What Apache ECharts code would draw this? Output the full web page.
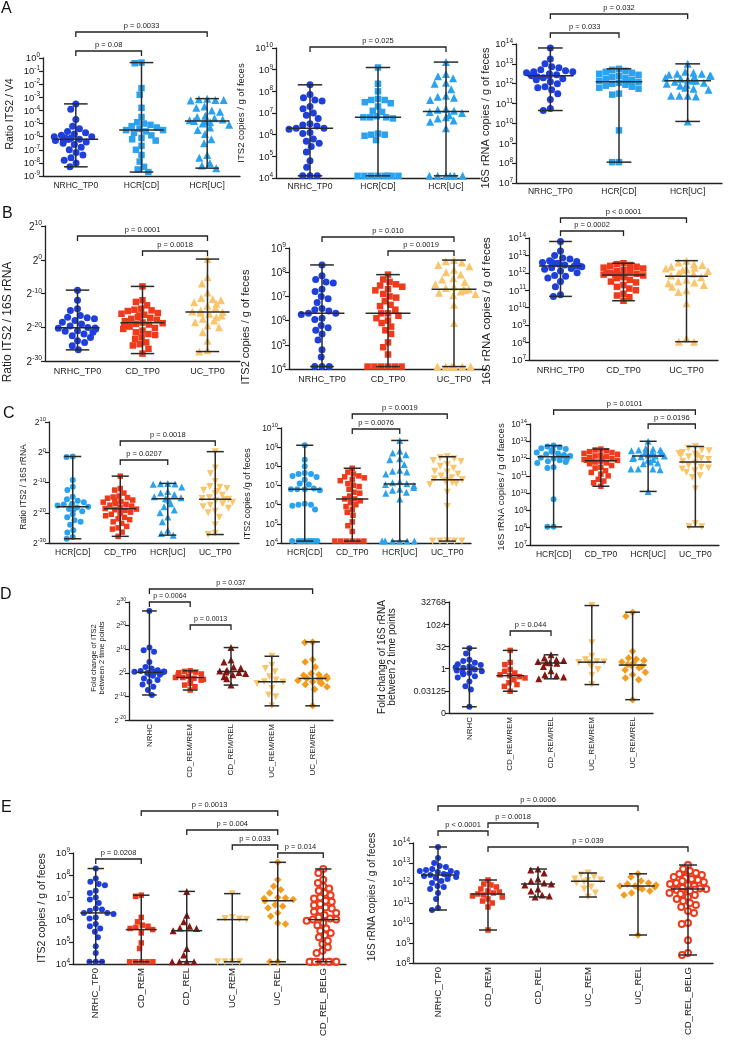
<!DOCTYPE html>
<html><head><meta charset="utf-8">
<script src="https://cdn.jsdelivr.net/npm/echarts@6/dist/echarts.min.js"></script>
<style>html,body{margin:0;padding:0;background:#fff}#c{width:730px;height:1049px}</style>
</head><body><div id="c"></div>
<script>
// ================= DATA (log10 or log2 exponents) =================
const catsA = ['NRHC_TP0', 'HCR[CD]', 'HCR[UC]'];
const catsB = ['NRHC_TP0', 'CD_TP0', 'UC_TP0'];
const catsC = ['HCR[CD]', 'CD_TP0', 'HCR[UC]', 'UC_TP0'];
const catsD = ['NRHC', 'CD_REM/REM', 'CD_REM/REL', 'UC_REM/REM', 'UC_REM/REL'];
const catsE = ['NRHC_TP0', 'CD_REM', 'CD_REL', 'UC_REM', 'UC_REL', 'CD_REL_BELG'];

// log10(ratio ITS2 / V4)
const log10_ratioV4_NRHC_TP0 = [-3.5, -3.9, -4.7, -5.2, -5.4, -5.6, -5.7, -5.8, -5.9, -6.0, -6.0, -6.1, -6.1, -6.2, -6.2, -6.2, -6.3, -6.3, -6.4, -6.5, -6.6, -6.8, -7.0, -7.2, -7.4, -7.6, -7.8, -8.0, -8.3];
const log10_ratioV4_HCR_CD = [-0.35, -0.4, -2.3, -2.8, -3.8, -4.5, -4.9, -5.0, -5.1, -5.2, -5.3, -5.4, -5.5, -5.5, -5.6, -5.7, -5.9, -6.1, -6.2, -6.3, -6.7, -7.0, -7.4, -7.9, -8.3, -8.5, -8.7];
const log10_ratioV4_HCR_UC = [-3.1, -3.15, -3.2, -3.2, -3.25, -3.7, -3.8, -4.0, -4.1, -4.4, -4.5, -4.6, -4.7, -4.75, -4.8, -4.8, -4.9, -5.0, -5.1, -5.3, -5.5, -5.8, -6.2, -6.5, -7.4, -7.6, -8.0, -8.2, -8.4];

// log10(ITS2 copies / g of feces)
const log10_its2_NRHC_TP0 = [8.3, 7.85, 7.7, 7.6, 7.55, 7.3, 7.2, 7.0, 6.9, 6.75, 6.5, 6.45, 6.4, 6.3, 6.3, 6.25, 6.1, 6.05, 5.8, 5.7, 5.6, 5.45, 5.2, 4.8, 4.5, 4.1, 4.1, 4.1];
const log10_its2_HCR_CD = [9.1, 8.35, 8.0, 7.65, 7.6, 7.6, 7.5, 7.45, 7.3, 7.1, 7.05, 6.85, 6.8, 6.8, 6.8, 6.75, 6.05, 6.0, 6.0, 5.95, 5.75, 4.1, 4.1, 4.1, 4.1, 4.1, 4.1, 4.1, 4.1];
const log10_its2_HCR_UC = [9.35, 8.8, 8.7, 8.6, 8.4, 8.35, 8.1, 7.8, 7.75, 7.7, 7.6, 7.2, 7.15, 7.1, 7.05, 7.0, 6.9, 6.8, 6.75, 6.65, 6.6, 6.3, 4.1, 4.1, 4.1, 4.1, 4.1, 4.1];
const log10_its2_CD_TP0 = [7.9, 7.7, 7.6, 7.5, 7.45, 7.4, 7.3, 7.25, 7.1, 7.0, 6.95, 6.8, 6.65, 6.6, 6.45, 6.3, 6.3, 6.2, 6.1, 6.0, 5.9, 5.75, 5.6, 5.45, 5.1, 4.9, 4.6, 4.1, 4.1, 4.1, 4.1, 4.1, 4.1];
const log10_its2_UC_TP0 = [8.5, 8.45, 8.4, 8.3, 8.25, 8.1, 8.0, 7.9, 7.75, 7.7, 7.6, 7.5, 7.4, 7.35, 7.3, 7.28, 7.25, 7.2, 7.15, 7.1, 7.05, 6.65, 5.9, 4.1, 4.1, 4.1, 4.1, 4.1, 4.1];
const log10_its2_CD_REM = [7.1, 7.05, 6.1, 5.9, 5.75, 5.7, 5.65, 5.6, 5.55, 5.4, 4.95, 4.7, 4.1, 4.1, 4.1, 4.1, 4.1];
const log10_its2_CD_REL = [7.27, 6.2, 5.9, 5.7, 5.62, 5.6, 5.5, 4.7, 4.4, 4.1, 4.1, 4.1, 4.1];
const log10_its2_UC_REM = [7.17, 6.1, 6.05, 6.03, 6.0, 4.1, 4.1, 4.1, 4.1];
const log10_its2_UC_REL = [8.58, 7.8, 7.5, 7.35, 7.2, 7.0, 6.97, 6.95, 6.9, 6.85, 6.67, 6.6, 6.52, 6.3, 6.15, 5.85, 5.8, 4.1, 4.1];
const log10_its2_CD_REL_BELG = [8.28, 8.1, 7.8, 7.65, 7.5, 7.4, 7.3, 7.2, 7.1, 7.0, 6.95, 6.85, 6.8, 6.7, 6.65, 6.55, 6.5, 6.4, 6.35, 6.3, 6.2, 6.1, 6.05, 6.0, 6.0, 5.95, 5.85, 5.75, 5.6, 5.5, 5.4, 5.3, 5.2, 5.05, 4.9, 4.75, 4.6, 4.5, 4.1, 4.1, 4.1, 4.1, 4.1, 4.1, 4.1, 4.1, 4.1, 4.1];

// log10(16S rRNA copies / g of feces)
const log10_16s_NRHC_TP0 = [13.8, 13.25, 13.0, 12.85, 12.8, 12.7, 12.65, 12.6, 12.6, 12.55, 12.5, 12.45, 12.4, 12.4, 12.4, 12.35, 12.3, 12.25, 12.2, 12.1, 12.0, 11.85, 11.8, 11.7, 11.5, 11.2, 10.75, 10.65];
const log10_16s_HCR_CD = [12.75, 12.7, 12.65, 12.6, 12.55, 12.5, 12.45, 12.4, 12.35, 12.3, 12.25, 12.2, 12.15, 12.1, 12.1, 12.05, 12.0, 11.95, 11.9, 11.85, 11.8, 11.75, 11.5, 11.45, 9.65, 8.05, 8.05];
const log10_16s_HCR_UC = [13.0, 12.6, 12.55, 12.5, 12.5, 12.45, 12.4, 12.4, 12.35, 12.3, 12.25, 12.2, 12.15, 12.15, 12.1, 12.05, 12.0, 11.95, 11.9, 11.8, 11.75, 11.7, 11.4, 11.4, 11.35, 11.4, 10.1];
const log10_16s_CD_TP0 = [12.55, 12.5, 12.45, 12.4, 12.35, 12.3, 12.25, 12.2, 12.15, 12.1, 12.05, 12.0, 12.0, 11.95, 11.9, 11.9, 11.85, 11.85, 11.8, 11.75, 11.7, 11.6, 11.5, 11.45, 11.3, 11.2, 11.1, 11.0, 10.8, 10.7, 10.6, 10.4];
const log10_16s_UC_TP0 = [12.7, 12.6, 12.5, 12.45, 12.35, 12.3, 12.25, 12.2, 12.15, 12.1, 12.0, 11.95, 11.85, 11.75, 11.6, 11.5, 11.45, 11.4, 11.3, 11.2, 11.0, 10.9, 10.25, 8.25, 8.05, 8.05];
const log10_16s_CD_REM = [12.15, 11.95, 11.9, 11.8, 11.7, 11.6, 11.55, 11.5, 11.45, 11.4, 11.35, 11.3, 11.2, 11.1, 11.0, 10.8, 9.65];
const log10_16s_CD_REL = [12.7, 12.65, 12.5, 12.2, 12.1, 12.0, 11.95, 11.9, 11.7, 11.6, 11.4, 11.35, 11.3];
const log10_16s_UC_REM = [12.5, 12.4, 12.3, 12.2, 12.15, 12.12, 12.05, 12.0, 11.8, 11.7, 11.5, 11.3];
const log10_16s_UC_REL = [12.46, 12.3, 12.1, 12.0, 11.95, 11.9, 11.85, 11.85, 11.8, 11.75, 11.7, 11.6, 11.5, 11.4, 9.4];
const log10_16s_CD_REL_BELG = [12.9, 12.7, 12.6, 12.5, 12.45, 12.4, 12.35, 12.3, 12.25, 12.2, 12.15, 12.1, 12.05, 12.0, 11.95, 11.9, 11.85, 11.8, 11.75, 11.72, 11.7, 11.7, 11.68, 11.65, 11.6, 11.55, 11.5, 11.45, 11.4, 11.3, 11.2, 11.1, 11.0, 10.9, 10.8, 10.6, 10.5, 10.0, 9.95, 9.14, 8.5, 8.4];

// log2(ratio ITS2 / 16S rRNA)
const log2_ratio16s_NRHC_TP0 = [-9, -12, -14.5, -15, -16.5, -17, -17.2, -17.5, -18, -18.5, -19, -19.6, -20.1, -20.2, -20.3, -20.5, -21, -21.2, -21.5, -22, -22.5, -23, -24, -24.5, -25.5, -26.7];
const log2_ratio16s_CD_TP0 = [-7.9, -12, -12.5, -13.5, -14.5, -14.8, -15, -15.2, -15.8, -16, -16.3, -16.5, -17, -17.2, -17.5, -17.8, -18.2, -18.6, -18.8, -19, -19.2, -19.5, -19.8, -20.2, -20.5, -21, -21.5, -22, -22.3, -23, -23.5, -24.5, -25, -25.4, -26.4, -27.8];
const log2_ratio16s_UC_TP0 = [0.2, -5.2, -7, -9.7, -11.3, -11.6, -12, -12.6, -13, -13.6, -14.2, -15, -15.3, -15.5, -15.7, -16, -16.5, -17, -17.5, -18, -18.5, -19.5, -20, -21.5, -24, -26.8, -27.2];
const log2_ratio16s_HCR_CD = [-1.4, -1.6, -9.2, -11.4, -12.5, -14.7, -15.5, -16, -16.5, -17, -17.3, -17.6, -18, -18, -18.3, -18.8, -19.1, -19.5, -20.5, -21.5, -22.5, -23, -24, -25.8, -26.5, -28, -28.6];
const log2_ratio16s_HCR_UC = [-10.3, -10.4, -10.5, -10.6, -11.5, -13, -13.5, -14, -14.7, -15, -15.3, -15.5, -16, -17, -18, -19.1, -20, -21.4, -23, -25.8, -26.9, -27.4];

// log2(fold change between 2 time points)
const log2_fcITS2_NRHC = [26.2, 10.7, 9.6, 8.9, 4.6, 2.5, 1.8, 1.1, 0.8, 0.6, 0.4, 0.4, 0.3, 0.1, -0.1, -0.3, -0.5, -0.8, -1.2, -2.4, -3.0, -3.8, -5.0, -5.9, -7.3, -9.4];
const log2_fcITS2_CD_REMREM = [0.85, 0.6, 0.3, 0, -0.5, -1.0, -1.5, -2.0, -2.0, -2.3, -2.8, -3.1, -3.5, -4.5, -5.2, -5.9, -7.3];
const log2_fcITS2_CD_REMREL = [10.7, 5.4, 4.6, 2.5, 2.0, 1.1, 0.8, 0.3, 0.1, -0.3, -0.8, -1.7, -2.5, -5.2];
const log2_fcITS2_UC_REMREM = [7.0, 3.2, 1.8, 0.4, -1.7, -3.1, -3.8, -3.9, -4.5, -6.6, -9.4, -10.1, -14.0];
const log2_fcITS2_UC_REMREL = [13.1, 12.8, 5.6, 4.6, 2.5, -0.3, -0.8, -1.0, -1.5, -2.0, -2.2, -2.4, -2.4, -2.6, -3.0, -3.3, -3.8, -4.2, -4.5, -5.0, -5.9, -7.0, -14.0];
const log2_fc16S_NRHC = [4.6, 3.4, 2.0, 1.7, 1.3, 1.0, 0.8, 0.5, 0.3, 0.2, 0.1, 0.0, -0.2, -0.4, -0.6, -0.8, -1.0, -1.3, -1.7, -2.0, -2.9, -4.0, -4.7, -8.6];
const log2_fc16S_CD_REMREM = [4.1, 1.4, 0.9, -0.2, -0.6, -1.0, -1.4, -1.6, -1.8, -2.1, -2.5, -3.2, -3.6, -4.0, -5.1];
const log2_fc16S_CD_REMREL = [3.1, 2.4, 2.0, 1.8, 1.6, 1.4, 1.3, 1.2, 0.5, -0.5, -1.4, -1.6, -1.9, -2.3];
const log2_fc16S_UC_REMREM = [14.2, 5.8, 2.8, 2.0, 1.6, 1.5, 1.4, 1.3, 0.5, -0.2, -1.5, -3.6];
const log2_fc16S_UC_REMREL = [12.7, 11.8, 3.9, 2.4, 2.1, 1.8, 1.5, 1.2, 0.9, 0.7, 0.5, 0.2, -0.3, -0.8, -1.4, -2.1, -2.5, -7.0];

// p-value comparisons [from, to, label]
const pA1 = [['NRHC_TP0', 'HCR[UC]', 'p = 0.0033'], ['NRHC_TP0', 'HCR[CD]', 'p = 0.08']];
const pA2 = [['NRHC_TP0', 'HCR[UC]', 'p = 0.025']];
const pA3 = [['NRHC_TP0', 'HCR[UC]', 'p = 0.032'], ['NRHC_TP0', 'HCR[CD]', 'p = 0.033']];
const pB1 = [['NRHC_TP0', 'UC_TP0', 'p = 0.0001'], ['CD_TP0', 'UC_TP0', 'p = 0.0018']];
const pB2 = [['NRHC_TP0', 'UC_TP0', 'p = 0.010'], ['CD_TP0', 'UC_TP0', 'p = 0.0019']];
const pB3 = [['NRHC_TP0', 'UC_TP0', 'p < 0.0001'], ['NRHC_TP0', 'CD_TP0', 'p = 0.0002']];
const pC1 = [['CD_TP0', 'UC_TP0', 'p = 0.0018'], ['CD_TP0', 'HCR[UC]', 'p = 0.0207']];
const pC2 = [['CD_TP0', 'UC_TP0', 'p = 0.0019'], ['CD_TP0', 'HCR[UC]', 'p = 0.0076']];
const pC3 = [['HCR[CD]', 'UC_TP0', 'p = 0.0101'], ['HCR[UC]', 'UC_TP0', 'p = 0.0196']];
const pD1 = [['NRHC', 'UC_REM/REL', 'p = 0.037'], ['NRHC', 'CD_REM/REM', 'p = 0.0064'], ['CD_REM/REM', 'CD_REM/REL', 'p = 0.0013']];
const pD2 = [['CD_REM/REM', 'CD_REM/REL', 'p = 0.044']];
const pE1 = [['CD_REM', 'UC_REL', 'p = 0.0013'], ['CD_REL', 'UC_REL', 'p = 0.004'], ['UC_REM', 'UC_REL', 'p = 0.033'], ['UC_REL', 'CD_REL_BELG', 'p = 0.014'], ['NRHC_TP0', 'CD_REM', 'p = 0.0208']];
const pE2 = [['NRHC_TP0', 'UC_REL', 'p = 0.0006'], ['CD_REM', 'CD_REL', 'p = 0.0018'], ['NRHC_TP0', 'CD_REM', 'p < 0.0001'], ['CD_REM', 'CD_REL_BELG', 'p = 0.039']];

// ================= STYLE / LAYOUT =================
const FONT = '"Liberation Sans", Arial, Helvetica, sans-serif';
const INK = '#222';
const DOWN = 'path://M0,0L10,0L5,8.7Z';
const MARK = {
  nrhc: { symbol: 'circle', color: '#1e3fdc', d: 0 },
  hcrSq: { symbol: 'rect', color: '#2aa2f0', d: -0.5 },
  hcrTri: { symbol: 'triangle', color: '#2aa2f0', d: 1 },
  hcrCirc: { symbol: 'circle', color: '#2aa2f0', d: 0 },
  cdSq: { symbol: 'rect', color: '#f03a1c', d: -0.5 },
  ucTri: { symbol: 'triangle', color: '#f9c56d', d: 1 },
  ucDown: { symbol: DOWN, color: '#f9c56d', d: 1 },
  relTri: { symbol: 'triangle', color: '#8b1410', d: 1 },
  ucDia: { symbol: 'diamond', color: '#f59c1f', d: 1.5 },
  belg: { symbol: 'emptyCircle', color: '#f03a1c', d: 0 }
};
// exponent labels as base + raised smaller exponent (rich text)
const expLabel = base => v => '{b|' + base + '}{s|' + Math.round(v) + '}';
const p10 = expLabel('10');
const p2 = expLabel('2');
const foldLbl = v => '{b|' + (v <= -10 ? '0' : String(Math.pow(2, v))) + '}';
const richFor = fs => ({
  b: { fontSize: fs, fontFamily: FONT, color: INK, lineHeight: fs * 1.2, verticalAlign: 'bottom' },
  s: { fontSize: fs * 0.68, fontFamily: FONT, color: INK, lineHeight: fs * 1.2, verticalAlign: 'top' }
});

const panels = [
  { box: [43, 58, 240, 176], cats: catsA, groups: [log10_ratioV4_NRHC_TP0, log10_ratioV4_HCR_CD, log10_ratioV4_HCR_UC], marks: ['nrhc', 'hcrSq', 'hcrTri'], y: [-9, 0, 1], fmt: p10, yfs: 9.5, xfs: 8.5, xm: 5, jit: 44, sym: 7, pfs: 7.5, p: pA1, py: [32, 51] },
  { box: [276, 48, 480, 178], cats: catsA, groups: [log10_its2_NRHC_TP0, log10_its2_HCR_CD, log10_its2_HCR_UC], marks: ['nrhc', 'hcrSq', 'hcrTri'], y: [4, 10, 1], fmt: p10, yfs: 9.5, xfs: 8.5, xm: 4, jit: 44, sym: 7, pfs: 7.5, p: pA2, py: [47] },
  { box: [516, 44, 722, 183], cats: catsA, groups: [log10_16s_NRHC_TP0, log10_16s_HCR_CD, log10_16s_HCR_UC], marks: ['nrhc', 'hcrSq', 'hcrTri'], y: [7, 14, 1], fmt: p10, yfs: 9.5, xfs: 8.5, xm: 4, jit: 48, sym: 7, pfs: 7.5, p: pA3, py: [14, 33] },
  { box: [45, 226, 240, 361], cats: catsB, groups: [log2_ratio16s_NRHC_TP0, log2_ratio16s_CD_TP0, log2_ratio16s_UC_TP0], marks: ['nrhc', 'cdSq', 'ucTri'], y: [-30, 10, 10], fmt: p2, yfs: 10, xfs: 9, xm: 6, jit: 42, sym: 7, pfs: 7.5, p: pB1, py: [236, 251] },
  { box: [289, 248, 487, 369], cats: catsB, groups: [log10_its2_NRHC_TP0, log10_its2_CD_TP0, log10_its2_UC_TP0], marks: ['nrhc', 'cdSq', 'ucTri'], y: [4, 9, 1], fmt: p10, yfs: 10, xfs: 9, xm: 6, jit: 44, sym: 7, pfs: 7.5, p: pB2, py: [237, 251] },
  { box: [529, 238, 718, 360], cats: catsB, groups: [log10_16s_NRHC_TP0, log10_16s_CD_TP0, log10_16s_UC_TP0], marks: ['nrhc', 'cdSq', 'ucTri'], y: [7, 14, 1], fmt: p10, yfs: 9.5, xfs: 9, xm: 6, jit: 44, sym: 7, pfs: 7.5, p: pB3, py: [218, 231] },
  { box: [49, 422, 239, 543], cats: catsC, groups: [log2_ratio16s_HCR_CD, log2_ratio16s_CD_TP0, log2_ratio16s_HCR_UC, log2_ratio16s_UC_TP0], marks: ['hcrCirc', 'cdSq', 'hcrTri', 'ucDown'], y: [-30, 10, 10], fmt: p2, yfs: 8.5, xfs: 8.5, xm: 5, jit: 36, sym: 6, pfs: 7.5, p: pC1, py: [441, 460] },
  { box: [281, 428, 471, 543], cats: catsC, groups: [log10_its2_HCR_CD, log10_its2_CD_TP0, log10_its2_HCR_UC, log10_its2_UC_TP0], marks: ['hcrCirc', 'cdSq', 'hcrTri', 'ucDown'], y: [4, 10, 1], fmt: p10, yfs: 8.5, xfs: 8.5, xm: 5, jit: 36, sym: 6, pfs: 7.5, p: pC2, py: [414, 429] },
  { box: [530, 424, 719, 545], cats: catsC, groups: [log10_16s_HCR_CD, log10_16s_CD_TP0, log10_16s_HCR_UC, log10_16s_UC_TP0], marks: ['hcrCirc', 'cdSq', 'hcrTri', 'ucDown'], y: [7, 14, 1], fmt: p10, yfs: 8.5, xfs: 8.5, xm: 5, jit: 36, sym: 6, pfs: 7.5, p: pC3, py: [410, 424] },
  { box: [129, 602, 333, 720], cats: catsD, groups: [log2_fcITS2_NRHC, log2_fcITS2_CD_REMREM, log2_fcITS2_CD_REMREL, log2_fcITS2_UC_REMREM, log2_fcITS2_UC_REMREL], marks: ['nrhc', 'cdSq', 'relTri', 'ucDown', 'ucDia'], y: [-20, 30, 10], fmt: p2, yfs: 7.5, xfs: 8, rot: 90, xm: 4, jit: 30, sym: 6, pfs: 7, p: pD1, py: [589, 602, 625] },
  { box: [449, 602, 653, 713], cats: catsD, groups: [log2_fc16S_NRHC, log2_fc16S_CD_REMREM, log2_fc16S_CD_REMREL, log2_fc16S_UC_REMREM, log2_fc16S_UC_REMREL], marks: ['nrhc', 'cdSq', 'relTri', 'ucDown', 'ucDia'], y: [-10, 15, 5], fmt: foldLbl, yfs: 9, xfs: 8, rot: 90, xm: 4, jit: 30, sym: 6, pfs: 7.5, p: pD2, py: [631] },
  { box: [73, 853, 346, 964], cats: catsE, groups: [log10_its2_NRHC_TP0, log10_its2_CD_REM, log10_its2_CD_REL, log10_its2_UC_REM, log10_its2_UC_REL, log10_its2_CD_REL_BELG], marks: ['nrhc', 'cdSq', 'relTri', 'ucDown', 'ucDia', 'belg'], y: [4, 9, 1], fmt: p10, yfs: 9.5, xfs: 9.5, rot: 90, xm: 4, jit: 36, sym: 6, pfs: 7.5, p: pE1, py: [811, 830, 845, 853, 859] },
  { box: [413, 843, 713, 963], cats: catsE, groups: [log10_16s_NRHC_TP0, log10_16s_CD_REM, log10_16s_CD_REL, log10_16s_UC_REM, log10_16s_UC_REL, log10_16s_CD_REL_BELG], marks: ['nrhc', 'cdSq', 'relTri', 'ucDown', 'ucDia', 'belg'], y: [8, 14, 1], fmt: p10, yfs: 9.5, xfs: 9.5, rot: 90, xm: 4, jit: 38, sym: 6, pfs: 7.5, p: pE2, py: [806, 823, 831, 847] }
];

const yTitles = [
  ['Ratio ITS2 / V4', 10, 114, 10.5],
  ['ITS2 copies / g of feces', 241, 113, 9.5],
  ['16S rRNA copies / g of feces', 486, 118, 11],
  ['Ratio ITS2 / 16S rRNA', 8, 322, 12],
  ['ITS2 copies / g of feces', 246, 327, 11],
  ['16S rRNA copies / g of feces', 487, 311, 11.5],
  ['Ratio ITS2 / 16S rRNA', 24, 487, 8.5],
  ['ITS2 copies /g of feces', 248, 494, 9],
  ['16S rRNA copies / g of faeces', 501, 487, 9.5],
  ['Fold change of ITS2\nbetween 2 time points', 97.5, 658, 7.5],
  ['Fold change of 16S rRNA\nbetween 2 time points', 387, 657, 10],
  ['ITS2 copies / g of feces', 42, 908, 10.5],
  ['16S rRNA copies / g of feces', 372, 897, 10]
];
const letters = [['A', 1, 1], ['B', 2, 206], ['C', 3, 406], ['D', 0, 587], ['E', 1, 800]];

// ================= BUILD =================
function median(a) {
  const s = a.slice().sort((x, y) => x - y), n = s.length;
  return n % 2 ? s[(n - 1) / 2] : (s[n / 2 - 1] + s[n / 2]) / 2;
}
const grid = [], xAxis = [], yAxis = [], series = [];
panels.forEach((p, i) => {
  const [l, t, r, b] = p.box;
  grid.push({ left: l, top: t, width: r - l, height: b - t });
  xAxis.push({
    gridIndex: i, type: 'category', data: p.cats, boundaryGap: true,
    jitter: p.jit, jitterOverlap: false, jitterMargin: 0.3,
    axisLine: { onZero: false, lineStyle: { color: INK, width: 1.3 } },
    axisTick: { show: false },
    axisLabel: { interval: 0, rotate: p.rot || 0, fontSize: p.xfs, margin: p.xm, color: INK, fontFamily: FONT }
  });
  yAxis.push({
    gridIndex: i, type: 'value', min: p.y[0], max: p.y[1], interval: p.y[2],
    axisLine: { show: true, onZero: false, lineStyle: { color: INK, width: 1.3 } },
    axisTick: { show: true, length: 4, lineStyle: { color: INK, width: 1.2 } },
    axisLabel: { formatter: p.fmt, margin: 3, rich: richFor(p.yfs) },
    splitLine: { show: false }
  });
  p.groups.forEach((arr, k) => {
    const m = MARK[p.marks[k]];
    series.push({
      type: 'scatter', xAxisIndex: i, yAxisIndex: i, name: p.cats[k],
      data: arr.map(v => [k, v]), symbol: m.symbol, symbolSize: p.sym + m.d,
      itemStyle: { color: m.color, opacity: 1, borderWidth: m.symbol === 'emptyCircle' ? 1.2 : 0, borderColor: m.color },
      z: 2, silent: true
    });
  });
  // median with range
  series.push({
    type: 'custom', xAxisIndex: i, yAxisIndex: i, z: 6, silent: true,
    encode: { x: 0, y: [1, 2, 3] },
    data: p.groups.map((arr, k) => [k, Math.min(...arr), median(arr), Math.max(...arr)]),
    renderItem: (params, api) => {
      const k = api.value(0);
      const lo = api.coord([k, api.value(1)]), md = api.coord([k, api.value(2)]), hi = api.coord([k, api.value(3)]);
      const bw = api.size([1, 0])[0];
      const cx = lo[0], mw = bw * 0.34, cw = bw * 0.18;
      const st = { stroke: '#2a2a2a', lineWidth: 1.5 };
      return { type: 'group', children: [
        { type: 'line', shape: { x1: cx, y1: lo[1], x2: cx, y2: hi[1] }, style: st },
        { type: 'line', shape: { x1: cx - cw, y1: lo[1], x2: cx + cw, y2: lo[1] }, style: st },
        { type: 'line', shape: { x1: cx - cw, y1: hi[1], x2: cx + cw, y2: hi[1] }, style: st },
        { type: 'line', shape: { x1: cx - mw, y1: md[1], x2: cx + mw, y2: md[1] }, style: st }
      ] };
    }
  });
  // significance brackets
  series.push({
    type: 'custom', xAxisIndex: i, yAxisIndex: i, z: 6, silent: true, clip: false,
    encode: { x: 0, y: 2 },
    data: p.p.map((c, k) => [p.cats.indexOf(c[0]), p.cats.indexOf(c[1]), k]),
    renderItem: (params, api) => {
      const a = api.value(0), b = api.value(1), k = api.value(2);
      const xa = api.coord([a, p.y[1]])[0], xb = api.coord([b, p.y[1]])[0];
      const y = p.py[k], d = 5;
      return { type: 'group', children: [
        { type: 'polyline', shape: { points: [[xa, y + d], [xa, y], [xb, y], [xb, y + d]] }, style: { stroke: INK, lineWidth: 1.3, fill: 'none' } },
        { type: 'text', style: { text: p.p[k][2], x: (xa + xb) / 2, y: y - 2, align: 'center', verticalAlign: 'bottom', fontSize: p.pfs, fontFamily: FONT, fill: INK } }
      ] };
    }
  });
});

const graphic = [];
yTitles.forEach(([text, x, y, fs]) => graphic.push({
  type: 'text', x, y, rotation: Math.PI / 2, silent: true,
  style: { text, align: 'center', verticalAlign: 'middle', fontSize: fs, fontFamily: FONT, fill: INK, lineHeight: fs * 1.05 }
}));
letters.forEach(([text, x, y]) => graphic.push({
  type: 'text', left: x, top: y, silent: true,
  style: { text, fontSize: 16, fontFamily: FONT, fill: '#111' }
}));

const chart = echarts.init(document.getElementById('c'), null, { renderer: 'canvas' });
chart.setOption({
  animation: false, backgroundColor: '#fff',
  textStyle: { fontFamily: FONT },
  grid, xAxis, yAxis, series, graphic
});
</script></body></html>
